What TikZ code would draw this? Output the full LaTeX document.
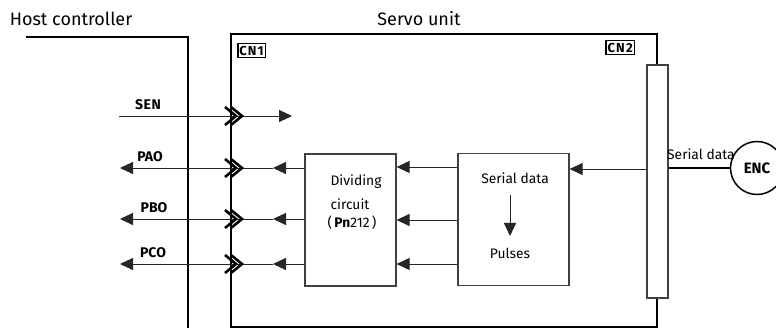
\documentclass[tikz,border=0pt]{standalone}
\usepackage{fontspec}
\setmainfont{Fira Sans}
\usetikzlibrary{arrows.meta}
\tikzset{
  sig/.style={draw=black!85, line width=0.9pt},
  tip/.style={-{Triangle[length=13pt,width=12pt]}},
  blk/.style={draw=black!75, line width=1.2pt, fill=white, inner sep=0pt},
  lbl/.style={font=\fontsize{14}{16}\selectfont\bfseries, inner sep=0pt},
  txt/.style={font=\fontsize{13.8}{16}\selectfont, inner sep=0pt},
  cnbox/.style={draw, line width=1.5pt, font=\fontsize{13}{14}\selectfont\bfseries, inner xsep=1.5pt, inner ysep=0pt, minimum height=14pt},
  chev/.pic={\draw[line width=2.6pt, line join=miter] (-11,-9)--(0,0)--(-11,9);
             \draw[line width=2.6pt, line join=miter] (-5,-9)--(6,0)--(-5,9);}
}
\begin{document}
\begin{tikzpicture}[x=1pt,y=-1pt]
\useasboundingbox (0,0) rectangle (776,328);
% titles
\node[font=\fontsize{18}{20}\selectfont, inner sep=0pt] (hostlbl) at (71,19) {Host controller};
\node[font=\fontsize{18}{20}\selectfont, inner sep=0pt] (servolbl) at (419,19) {Servo unit};
% host controller line
\coordinate (h0) at (26,37); \coordinate (h1) at (188,37); \coordinate (h2) at (188,330);
\draw[line width=1.1pt] (h0) -- (h1) -- (h2);
% servo unit box
\node[draw, line width=1.5pt, minimum width=426pt, minimum height=293pt, inner sep=0pt] (servo) at (444,180.5) {};
\node[cnbox, anchor=north west] (cn1) at (237,43) {C\kern1.2pt N\kern1.2pt 1};
\node[cnbox, anchor=north east] (cn2) at (635,40) {C\kern1.2pt N\kern1.2pt 2};
% strip connector
\node[blk, minimum width=21pt, minimum height=233pt] (strip) at (657.5,181.5) {};
% encoder
\node[draw, circle, line width=1.5pt, minimum size=53pt, inner sep=0pt, font=\fontsize{15}{17}\selectfont\bfseries] (enc) at (757,168) {ENC};
\draw[line width=1.3pt] (strip.east |- enc) -- (enc);
\node[txt, anchor=south west] (sd2) at (667,160) {Serial data};
% blocks
\node[blk, minimum width=91pt, minimum height=132pt] (div) at (350.5,220) {};
\node[blk, minimum width=111pt, minimum height=132pt] (ser) at (513.5,219.5) {};
\node[txt] (divA) at (356,182) {Dividing};
\node[txt] (divB) at (350,204) {circuit};
\node[txt] (divC) at (352,223) {(\,\textbf{Pn}212\,)};
\node[txt] (serA) at (515,178) {Serial data};
\node[txt] (serB) at (510,253) {Pulses};
\coordinate (dn0) at (510,195); \coordinate (dn1) at (510,236);
\draw[sig, tip] (dn0) -- (dn1);
% serial data in
\draw[sig, tip] (strip.west |- 0,169) -- (ser.east |- 0,169);
% serial to dividing
\foreach \y in {167,220,264}{
  \draw[sig, tip] (ser.west |- 0,\y) -- (div.east |- 0,\y);
}
% SEN
\coordinate (sen0) at (119,116); \coordinate (sen1) at (292,116);
\draw[sig, tip] (sen0) -- (sen1);
\node[lbl] (sen) at (148,105) {S\kern0.6pt E\kern0.6pt N};
% PAO / PBO / PCO
\foreach \y/\n/\lx in {168/PAO/150,219/PBO/154,264/PCO/153}{
  \coordinate (m\n) at (273,\y);
  \coordinate (o\n) at (120,\y);
  \draw[sig, tip] (div.west |- m\n) -- (m\n);
  \draw[sig, tip] (m\n) -- (o\n);
  \node[lbl] (l\n) at (\lx,\y-11) {\n};
}
% chevrons at CN1
\foreach \y in {116,168,219,264}{
  \pic at (236,\y) {chev};
}
\end{tikzpicture}
\end{document}
